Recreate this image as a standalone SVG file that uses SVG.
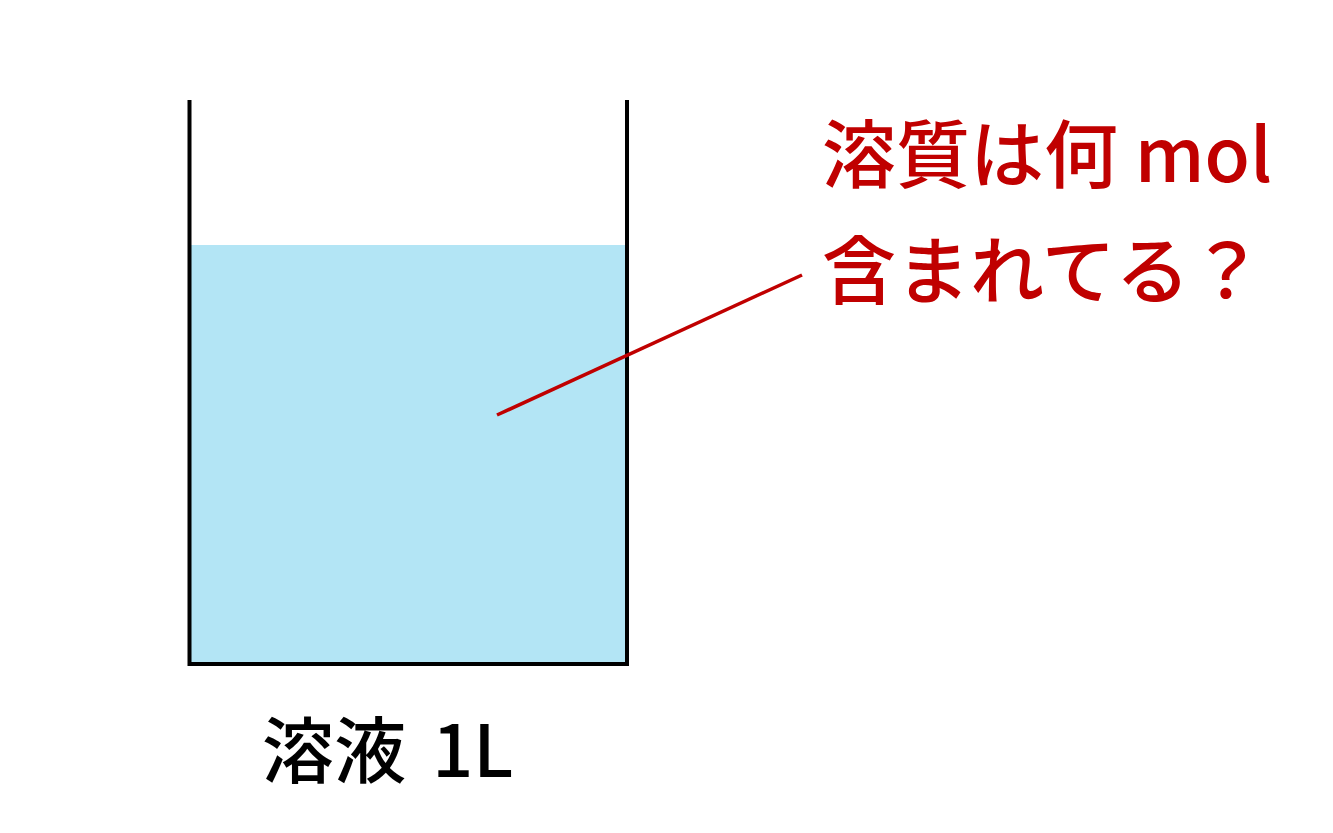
<svg xmlns="http://www.w3.org/2000/svg" width="1333" height="833" viewBox="0 0 1333 833">
<style>
.t{font-family:"Noto Sans CJK JP","Noto Sans",sans-serif;font-weight:500}
</style>
<rect width="1333" height="833" fill="#fff"/>
<g id="beaker">
<rect x="191" y="245" width="435" height="418" fill="#B3E5F5"/>
<path d="M189.5 100 V664 H627 V100" fill="none" stroke="#000" stroke-width="4"/>
</g>
<g id="connectors">
<line x1="497" y1="415" x2="802" y2="275" stroke="#C00000" stroke-width="3.5"/>
</g>
<g id="question">
<text class="t" x="822" y="182" font-size="74" fill="#C00000">溶質は何 mol</text>
<text class="t" x="822" y="298" font-size="74" fill="#C00000">含まれてる？</text>
</g>
<g id="label">
<text class="t" x="262" y="777" font-size="72" fill="#000" word-spacing="10">溶液 1L</text>
</g>
</svg>
